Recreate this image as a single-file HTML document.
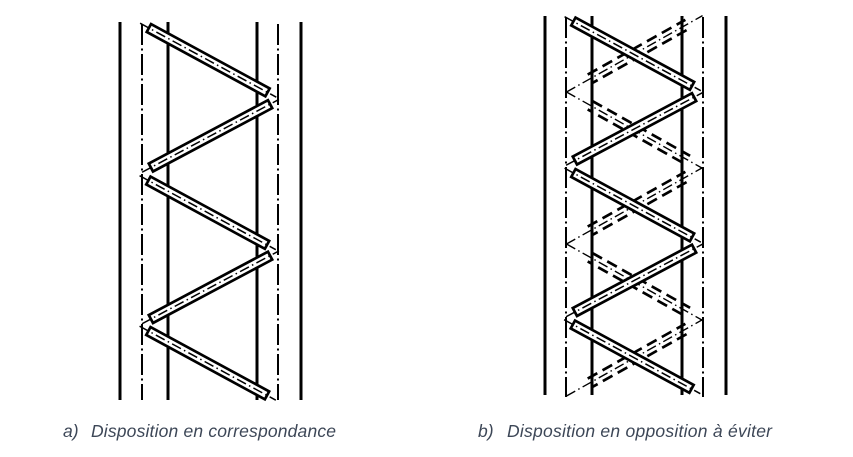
<!DOCTYPE html>
<html><head><meta charset="utf-8"><style>
html,body{margin:0;padding:0;background:#fff;width:853px;height:457px;overflow:hidden}
svg{display:block}
</style></head><body>
<svg width="853" height="457" viewBox="0 0 853 457" xmlns="http://www.w3.org/2000/svg">
<defs>
  <g id="bar">
    <rect x="1" y="-4.5" width="135" height="9" fill="#fff" stroke="#000" stroke-width="2.7"/>
    <line x1="-9" y1="0" x2="146" y2="0" stroke="#000" stroke-width="1.5" stroke-dasharray="10 3.5 1.5 3.5"/>
  </g>
  <g id="dbar">
    <line x1="0" y1="0" x2="156" y2="0" stroke="#000" stroke-width="1.4" stroke-dasharray="10 3.5 1.5 3.5"/>
    <line x1="27" y1="-4.8" x2="139" y2="-4.8" stroke="#000" stroke-width="2.7" stroke-dasharray="11 6"/>
    <line x1="27" y1="4.8" x2="139" y2="4.8" stroke="#000" stroke-width="2.7" stroke-dasharray="11 6" stroke-dashoffset="5"/>
  </g>
</defs>

<!-- LEFT DIAGRAM -->
<g stroke="#000" stroke-width="3">
  <line x1="120" y1="22" x2="120" y2="400"/>
  <line x1="168" y1="22" x2="168" y2="400"/>
  <line x1="257" y1="22" x2="257" y2="400"/>
  <line x1="301" y1="22" x2="301" y2="400"/>
</g>
<g stroke="#000" stroke-width="2" stroke-dasharray="21 3.5 2 3.5">
  <line x1="142" y1="24" x2="142" y2="400"/>
  <line x1="278" y1="24" x2="278" y2="400"/>
</g>
<use href="#bar" transform="translate(148,27.5) rotate(28.5)"/>
<use href="#bar" transform="translate(150,168) rotate(-28)"/>
<use href="#bar" transform="translate(147.5,180) rotate(28.5)"/>
<use href="#bar" transform="translate(150,319.5) rotate(-28)"/>
<use href="#bar" transform="translate(147.5,330.5) rotate(28.5)"/>

<!-- RIGHT DIAGRAM -->
<g stroke="#000" stroke-width="3">
  <line x1="545" y1="16" x2="545" y2="395"/>
  <line x1="592" y1="16" x2="592" y2="395"/>
  <line x1="682" y1="16" x2="682" y2="395"/>
  <line x1="726" y1="16" x2="726" y2="395"/>
</g>
<g stroke="#000" stroke-width="2" stroke-dasharray="21 3.5 2 3.5">
  <line x1="566" y1="17" x2="566" y2="397"/>
  <line x1="703" y1="17" x2="703" y2="397"/>
</g>
<!-- hidden (dashed) bars -->
<use href="#dbar" transform="translate(566.5,92) rotate(-29.3)"/>
<use href="#dbar" transform="translate(566.5,92) rotate(29.3)"/>
<use href="#dbar" transform="translate(566.5,244) rotate(-29.3)"/>
<use href="#dbar" transform="translate(566.5,244) rotate(29.3)"/>
<use href="#dbar" transform="translate(566.5,396) rotate(-29.3)"/>
<!-- visible bars -->
<use href="#bar" transform="translate(572.5,21) rotate(28.5)"/>
<use href="#bar" transform="translate(574,161) rotate(-28)"/>
<use href="#bar" transform="translate(572.5,172.5) rotate(28.5)"/>
<use href="#bar" transform="translate(574,312.5) rotate(-28)"/>
<use href="#bar" transform="translate(572,324) rotate(28.5)"/>

<!-- CAPTIONS -->
<g font-family="'Liberation Sans', Arial, sans-serif" font-style="italic" font-size="17.5" fill="#3d4757">
  <text x="63" y="437">a)</text>
  <text x="91" y="437" textLength="245" lengthAdjust="spacing">Disposition en correspondance</text>
  <text x="478" y="437">b)</text>
  <text x="507" y="437" textLength="265" lengthAdjust="spacing">Disposition en opposition à éviter</text>
</g>
</svg>
</body></html>
